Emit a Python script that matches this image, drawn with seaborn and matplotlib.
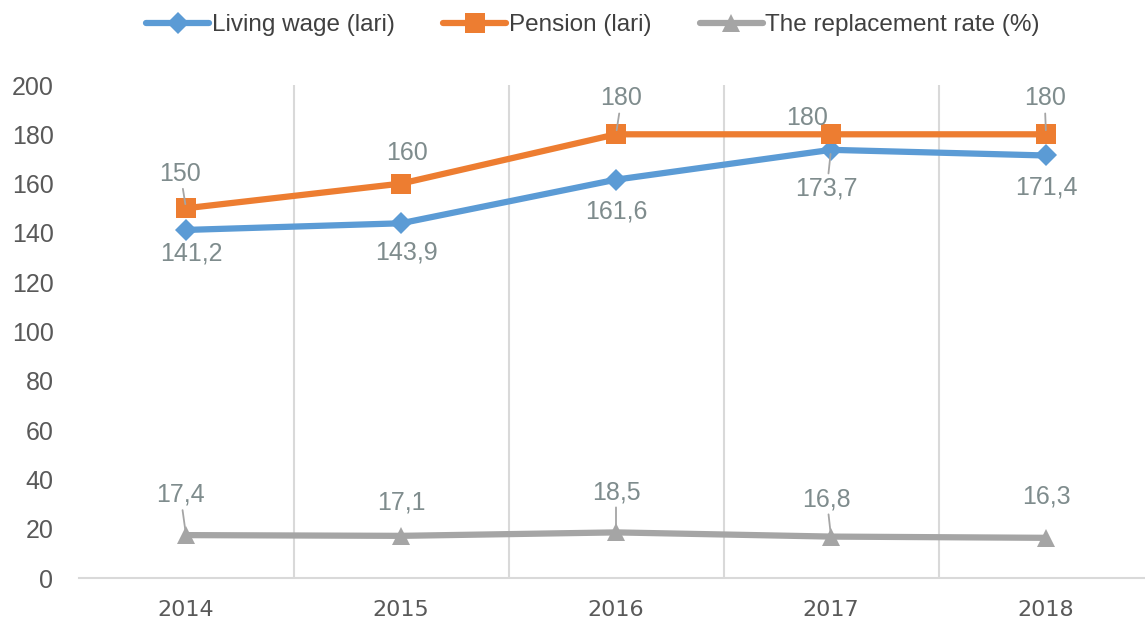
import pandas as pd
import seaborn as sns
import matplotlib.pyplot as plt
from matplotlib.ticker import FixedLocator

years = ["2014", "2015", "2016", "2017", "2018"]
living_wage = [141.2, 143.9, 161.6, 173.7, 171.4]
pension = [150, 160, 180, 180, 180]
replacement = [17.4, 17.1, 18.5, 16.8, 16.3]
series_names = ["Living wage (lari)", "Pension (lari)", "The replacement rate (%)"]

df = pd.DataFrame({
    "idx": list(range(len(years))) * 3,
    "value": living_wage + pension + replacement,
    "series": [s for s in series_names for _ in years],
})

sns.set_theme(style="white")
plt.rcParams["font.family"] = ["Liberation Sans", "DejaVu Sans"]

colors = {series_names[0]: "#5B9BD5", series_names[1]: "#ED7D31", series_names[2]: "#A5A5A5"}
markers = {series_names[0]: "D", series_names[1]: "s", series_names[2]: "^"}
msizes = {series_names[0]: 11, series_names[1]: 14, series_names[2]: 13}

fig = plt.figure(figsize=(11.45, 6.19), dpi=100)
ax = fig.add_axes([78.5 / 1145, 1 - 578 / 619, 1075 / 1145, 493 / 619])

for name in series_names:
    sub = df[df["series"] == name]
    sns.lineplot(data=sub, x="idx", y="value", ax=ax, color=colors[name],
                 lw=4.5, marker=markers[name], markersize=msizes[name],
                 markeredgewidth=0, label=name, legend=False)

ax.set_xlim(-0.5, 4.5)
ax.set_ylim(0, 200)
ax.set_yticks(range(0, 201, 20))
ax.set_xticks(range(len(years)))
ax.set_xticklabels(years)
ax.xaxis.set_minor_locator(FixedLocator([0.5, 1.5, 2.5, 3.5]))
ax.grid(False)
ax.grid(True, which="minor", axis="x", color="#D9D9D9", lw=1.5)
ax.set_xlabel("")
ax.set_ylabel("")
for s in ["top", "right", "left"]:
    ax.spines[s].set_visible(False)
ax.spines["bottom"].set_color("#D9D9D9")
ax.spines["bottom"].set_linewidth(1.5)
ax.tick_params(axis="y", length=0, labelsize=18, labelcolor="#595959", pad=18)
ax.tick_params(axis="x", which="both", length=0, labelsize=16, labelcolor="#595959", pad=16)
for t in ax.get_xticklabels():
    t.set_fontfamily(["DejaVu Sans"])

label_color = "#7F8C8D"
# offsets in points (dx, dy) and whether a leader line is drawn
lw_off = [(4, -17, False), (4, -21, False), (0, -23, False), (-3, -28, True), (0, -23, False)]
pe_off = [(-4, 25, True), (4, 22, False), (4, 26, True), (-17, 12, False), (-1, 26, True)]
rr_off = [(-4, 29, True), (0, 24, False), (0, 29, True), (-3, 27, True), (0, 30, False)]

def put_labels(values, offs):
    for i, (v, (dx, dy, lead)) in enumerate(zip(values, offs)):
        txt = f"{v:g}".replace(".", ",")
        ap = dict(arrowstyle="-", color="#A5A5A5", lw=1.3, shrinkA=0, shrinkB=3) if lead else None
        ax.annotate(txt, xy=(i, v), xytext=(dx, dy), textcoords="offset points",
                    ha="center", va="center", fontsize=18, color=label_color,
                    arrowprops=ap, zorder=5)

put_labels(living_wage, lw_off)
put_labels(pension, pe_off)
put_labels(replacement, rr_off)

handles, labels = ax.get_legend_handles_labels()
fig.legend(handles, labels, loc="center", bbox_to_anchor=(593 / 1145, 1 - 25 / 619),
           ncol=3, frameon=False, fontsize=17.5, handlelength=2.6, handletextpad=0.1,
           columnspacing=2.0, labelcolor="#404040")

fig.savefig("out.png", dpi=100)
